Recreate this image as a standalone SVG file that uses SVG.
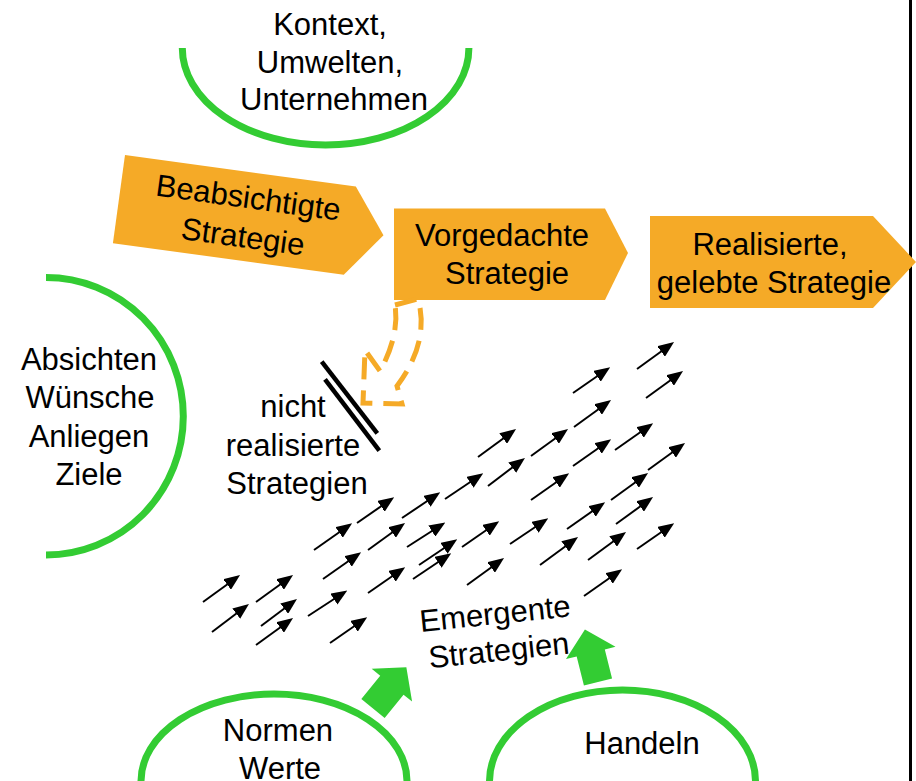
<svg xmlns="http://www.w3.org/2000/svg" width="916" height="781" viewBox="0 0 916 781">
<style>
text{font-family:"Liberation Sans",Arial,sans-serif;font-size:31px;fill:#000;text-anchor:middle}
.arc{fill:none;stroke:#33CC33;stroke-width:7}
.box{fill:#F5AA27}
.sm{stroke:#000;stroke-width:2;fill:none;marker-end:url(#ah)}
.grn{fill:#33CC33}
</style>
<defs>
<marker id="ah" markerUnits="userSpaceOnUse" markerWidth="16" markerHeight="13" refX="8.5" refY="6.5" orient="auto">
<path d="M0,0 L16,6.5 L0,13 Z" fill="#000"/>
</marker>
</defs>
<rect width="916" height="781" fill="#fff"/>
<line x1="910.5" y1="0" x2="910.5" y2="781" stroke="#000" stroke-width="3"/>

<g id="kontext">
<path class="arc" d="M182.3,48 A143.3,97 0 0 0 468.9,48"/>
<text x="330" y="35">Kontext,</text>
<text x="330" y="73">Umwelten,</text>
<text x="334" y="110">Unternehmen</text>
</g>

<g id="absichten">
<path class="arc" d="M46,277.5 A137.3,138.75 0 0 1 46,555"/>
<text x="89" y="370">Absichten</text>
<text x="90" y="408">Wünsche</text>
<text x="89" y="447">Anliegen</text>
<text x="89" y="485">Ziele</text>
</g>

<g id="beabsichtigte" transform="translate(125,155) rotate(7.8)">
<polygon class="box" points="0,0 233,0 267,44.5 233,89 0,89"/>
<text x="128" y="36">Beabsichtigte</text>
<text x="128" y="75.5">Strategie</text>
</g>

<g id="vorgedachte">
<polygon class="box" points="394,208.6 605,208.6 628,253 605,300 394,300"/>
<text x="502" y="246">Vorgedachte</text>
<text x="507" y="284">Strategie</text>
</g>

<g id="realisierte">
<polygon class="box" points="650,216 873,216 916,262 873,308 650,308"/>
<text x="770" y="255">Realisierte,</text>
<text x="774" y="293">gelebte Strategie</text>
</g>

<g id="nicht-realisierte">
<text x="293" y="417">nicht</text>
<text x="293" y="456">realisierte</text>
<text x="297" y="494">Strategien</text>
</g>

<g id="emergente" transform="rotate(-6,498,642)">
<text x="498" y="624">Emergente</text>
<text x="498" y="661">Strategien</text>
</g>

<g id="normen">
<path class="arc" d="M141,781 A133,87 0 0 1 407,781"/>
<text x="278" y="741">Normen</text>
<text x="280" y="779">Werte</text>
</g>

<g id="handeln">
<path class="arc" d="M489.5,781 A133,91 0 0 1 755.5,781"/>
<text x="642" y="754">Handeln</text>
</g>

<g id="connectors">
<path d="M395,305 L418,299 C424,320 424,350 397,386 L402,404 L363,403 L365,350 L380,371 C389,355 399,330 395,305 Z" fill="none" stroke="#F5AA27" stroke-width="5" stroke-dasharray="22,11"/>
<line x1="321.7" y1="361.7" x2="377.3" y2="433.3" stroke="#000" stroke-width="4.5"/>
<line x1="325" y1="379.3" x2="379.3" y2="450.7" stroke="#000" stroke-width="4.5"/>
<polygon class="grn" transform="translate(373,708.5) rotate(-51)" points="0,-15 30,-15 30,-26 53,0 30,26 30,15 0,15"/>
<polygon class="grn" transform="translate(598,682) rotate(-104)" points="0,-14.5 30,-14.5 30,-25.5 54,0 30,25.5 30,14.5 0,14.5"/>
<path class="sm" d="M573,393L604,371.5"/>
<path class="sm" d="M637,369L668,346.5"/>
<path class="sm" d="M646,398L677,375.5"/>
<path class="sm" d="M574,427L605,404.5"/>
<path class="sm" d="M478,457L510,433.5"/>
<path class="sm" d="M531,456L562,433.5"/>
<path class="sm" d="M573,466L605,443.5"/>
<path class="sm" d="M615,450L647,427.5"/>
<path class="sm" d="M445,499L477,477.5"/>
<path class="sm" d="M488,486L519,462.5"/>
<path class="sm" d="M531,500L563,477.5"/>
<path class="sm" d="M648,470L679,447.5"/>
<path class="sm" d="M611,500L642,477.5"/>
<path class="sm" d="M357,523L388,501.5"/>
<path class="sm" d="M402,518L434,496.5"/>
<path class="sm" d="M314,550L346,527.5"/>
<path class="sm" d="M368,550L399,527.5"/>
<path class="sm" d="M407,547L439,526.5"/>
<path class="sm" d="M462,547L493,525.5"/>
<path class="sm" d="M510,544L542,522.5"/>
<path class="sm" d="M567,529L599,506.5"/>
<path class="sm" d="M616,524L647,501.5"/>
<path class="sm" d="M419,565L451,543.5"/>
<path class="sm" d="M413,579L445,557.5"/>
<path class="sm" d="M323,579L355,556.5"/>
<path class="sm" d="M368,593L399,571.5"/>
<path class="sm" d="M467,585L498,562.5"/>
<path class="sm" d="M540,565L572,541.5"/>
<path class="sm" d="M588,560L620,536.5"/>
<path class="sm" d="M637,549L668,527.5"/>
<path class="sm" d="M584,596L616,573.5"/>
<path class="sm" d="M203,602L234,579.5"/>
<path class="sm" d="M256,602L287,579.5"/>
<path class="sm" d="M212,632L243,608.5"/>
<path class="sm" d="M261,626L291,603.5"/>
<path class="sm" d="M256,645L287,622.5"/>
<path class="sm" d="M308,616L341,594.5"/>
<path class="sm" d="M330,643L361,621.5"/>
</g>
</svg>
